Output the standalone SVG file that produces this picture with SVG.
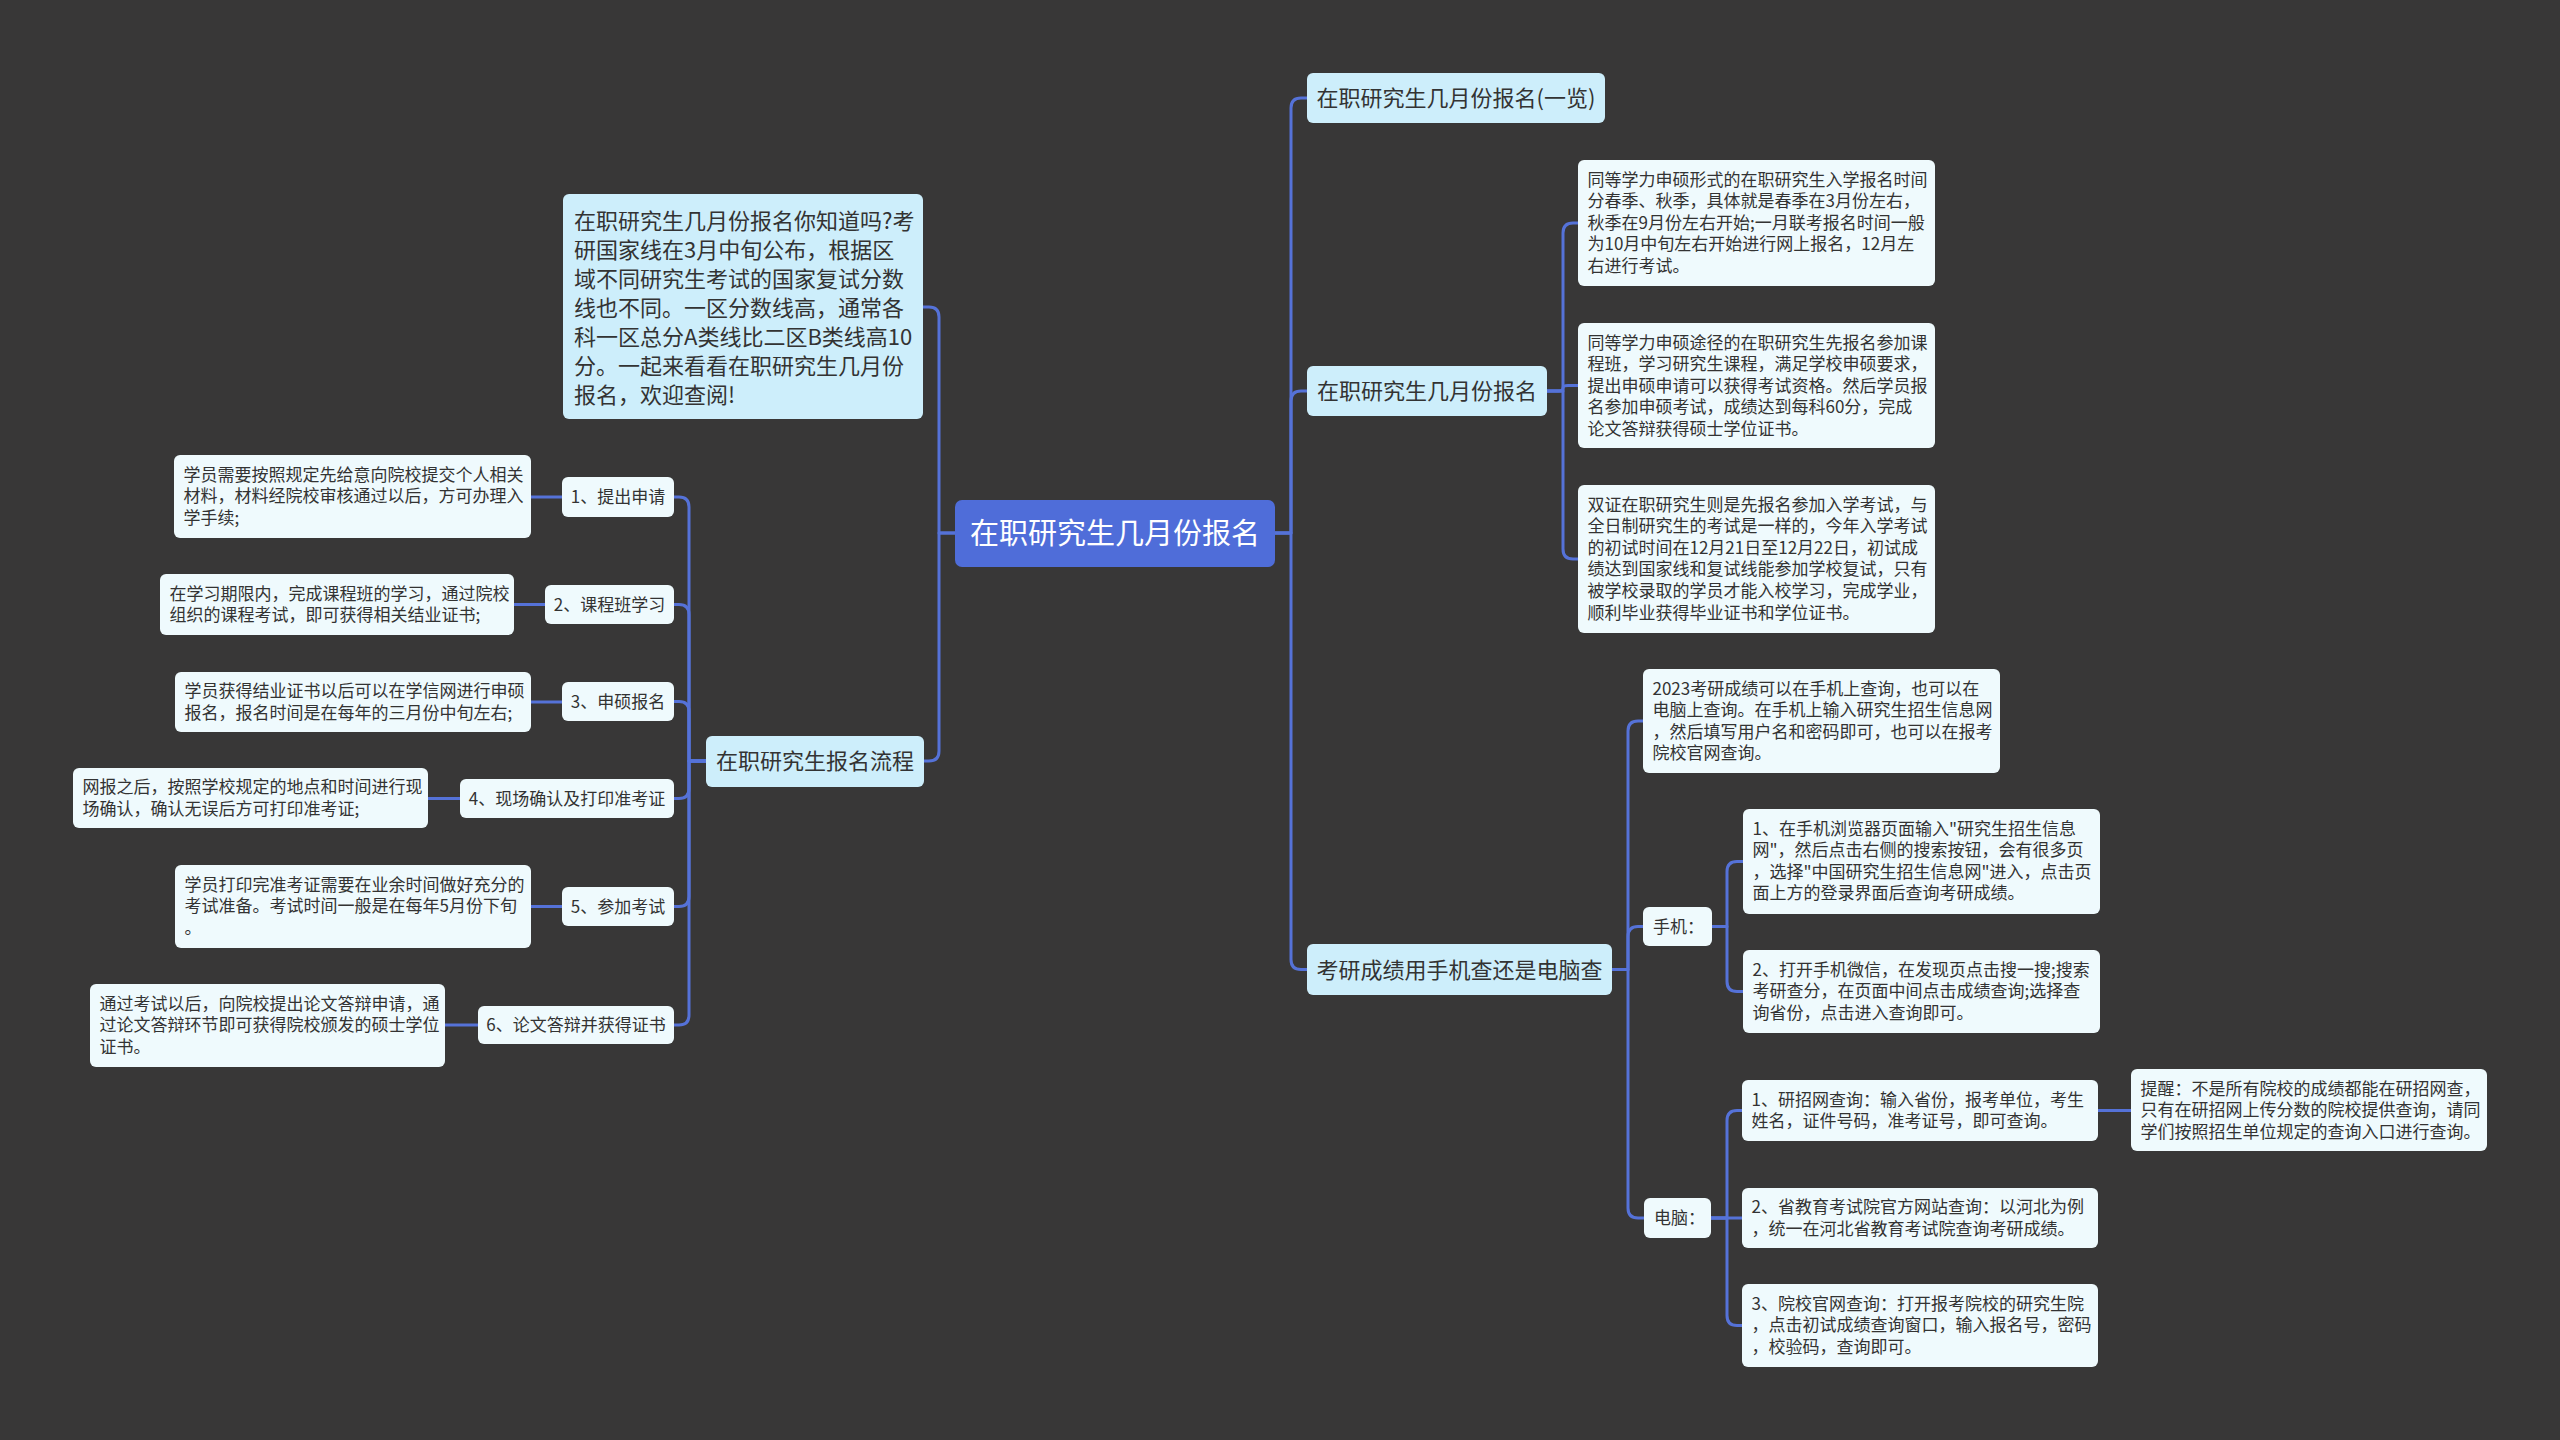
<svg xmlns="http://www.w3.org/2000/svg" width="2560" height="1440" viewBox="0 0 2560 1440">
<style>
.bg{fill:#383737}
.root{fill:#4f6dd9}
.l1{fill:#cdeefb}
.leaf{fill:#effafd}
text{font-family:"Noto Sans CJK SC","Microsoft YaHei",sans-serif;fill:#333333}
.rt{font-size:29px;fill:#ffffff}
.t22{font-size:22px}
.t17{font-size:17px}
.mid{text-anchor:middle}
.conn path{fill:none;stroke:#5572d8;stroke-width:3;stroke-linecap:round;stroke-linejoin:round}
</style>
<rect class="bg" x="0" y="0" width="2560" height="1440"/>

<g class="conn" id="connectors">
<path d="M1275 533 H1291 V108 Q1291 98 1301 98 H1307"/>
<path d="M1275 533 H1291 V401 Q1291 391 1301 391 H1307"/>
<path d="M1275 533 H1291 V959.5 Q1291 969.5 1301 969.5 H1307"/>
<path d="M955 533 H939 V317 Q939 307 929 307 H923"/>
<path d="M955 533 H939 V751 Q939 761 929 761 H924"/>
<path d="M706 761 H689 V507 Q689 497 679 497 H674"/>
<path d="M706 761 H689 V614.5 Q689 604.5 679 604.5 H674"/>
<path d="M706 761 H689 V711.5 Q689 701.5 679 701.5 H674"/>
<path d="M706 761 H689 V788.5 Q689 798.5 679 798.5 H674"/>
<path d="M706 761 H689 V896.5 Q689 906.5 679 906.5 H674"/>
<path d="M706 761 H689 V1015 Q689 1025 679 1025 H674"/>
<path d="M531 497 H562"/>
<path d="M514 604.5 H545"/>
<path d="M531 702 H562"/>
<path d="M428 798.5 H460"/>
<path d="M531 906.5 H562"/>
<path d="M445 1025 H478"/>
<path d="M1547 391 H1563 V233 Q1563 223 1573 223 H1578"/>
<path d="M1547 391 H1558 Q1563 391 1563 388 Q1563 385.5 1568 385.5 H1578"/>
<path d="M1547 391 H1563 V549 Q1563 559 1573 559 H1578"/>
<path d="M1612 969.5 H1628 V731 Q1628 721 1638 721 H1643"/>
<path d="M1612 969.5 H1628 V936.5 Q1628 926.5 1638 926.5 H1643"/>
<path d="M1612 969.5 H1628 V1208 Q1628 1218 1638 1218 H1644"/>
<path d="M1712 926.5 H1727 V871.5 Q1727 861.5 1737 861.5 H1743"/>
<path d="M1712 926.5 H1727 V981.5 Q1727 991.5 1737 991.5 H1743"/>
<path d="M1711 1218 H1727 V1120.5 Q1727 1110.5 1737 1110.5 H1742"/>
<path d="M1711 1218 H1742"/>
<path d="M1711 1218 H1727 V1315.5 Q1727 1325.5 1737 1325.5 H1742"/>
<path d="M2098 1110.5 H2131"/>
</g>

<g id="root">
<rect class="root" x="955" y="500" width="320" height="67" rx="7"/>
<text class="rt mid" x="1115" y="544">在职研究生几月份报名</text>
</g>

<g id="intro">
<rect class="l1" x="563" y="194" width="360" height="225" rx="6"/>
<text class="t22" x="574" y="229">
<tspan x="574" y="229">在职研究生几月份报名你知道吗?考</tspan>
<tspan x="574" y="258">研国家线在3月中旬公布，根据区</tspan>
<tspan x="574" y="287">域不同研究生考试的国家复试分数</tspan>
<tspan x="574" y="316">线也不同。一区分数线高，通常各</tspan>
<tspan x="574" y="345">科一区总分A类线比二区B类线高10</tspan>
<tspan x="574" y="374">分。一起来看看在职研究生几月份</tspan>
<tspan x="574" y="403">报名，欢迎查阅!</tspan>
</text>
</g>

<g id="flow">
<rect class="l1" x="706" y="736" width="218" height="51" rx="6"/>
<text class="t22 mid" x="815" y="769">在职研究生报名流程</text>
</g>

<g id="step1">
<rect class="leaf" x="562" y="477" width="112" height="40" rx="6"/>
<text class="t17 mid" x="618" y="503">1、提出申请</text>
</g>
<g id="desc1">
<rect class="leaf" x="174" y="455" width="357" height="83" rx="6"/>
<text class="t17"><tspan x="183.5" y="480.5">学员需要按照规定先给意向院校提交个人相关</tspan><tspan x="183.5" y="502.1">材料，材料经院校审核通过以后，方可办理入</tspan><tspan x="183.5" y="523.7">学手续;</tspan></text>
</g>
<g id="step2">
<rect class="leaf" x="545" y="585" width="129" height="39" rx="6"/>
<text class="t17 mid" x="609.5" y="610.5">2、课程班学习</text>
</g>
<g id="desc2">
<rect class="leaf" x="160" y="574" width="354" height="61" rx="6"/>
<text class="t17"><tspan x="169.5" y="599.5">在学习期限内，完成课程班的学习，通过院校</tspan><tspan x="169.5" y="621.1">组织的课程考试，即可获得相关结业证书;</tspan></text>
</g>
<g id="step3">
<rect class="leaf" x="562" y="682" width="112" height="39" rx="6"/>
<text class="t17 mid" x="618" y="707.5">3、申硕报名</text>
</g>
<g id="desc3">
<rect class="leaf" x="175" y="672" width="356" height="60" rx="6"/>
<text class="t17"><tspan x="184.5" y="697">学员获得结业证书以后可以在学信网进行申硕</tspan><tspan x="184.5" y="718.6">报名，报名时间是在每年的三月份中旬左右;</tspan></text>
</g>
<g id="step4">
<rect class="leaf" x="460" y="779" width="214" height="39" rx="6"/>
<text class="t17 mid" x="567" y="804.5">4、现场确认及打印准考证</text>
</g>
<g id="desc4">
<rect class="leaf" x="73" y="768" width="355" height="60" rx="6"/>
<text class="t17"><tspan x="82.5" y="793">网报之后，按照学校规定的地点和时间进行现</tspan><tspan x="82.5" y="814.6">场确认，确认无误后方可打印准考证;</tspan></text>
</g>
<g id="step5">
<rect class="leaf" x="562" y="887" width="112" height="39" rx="6"/>
<text class="t17 mid" x="618" y="912.5">5、参加考试</text>
</g>
<g id="desc5">
<rect class="leaf" x="175" y="865" width="356" height="83" rx="6"/>
<text class="t17"><tspan x="184.5" y="890.5">学员打印完准考证需要在业余时间做好充分的</tspan><tspan x="184.5" y="912.1">考试准备。考试时间一般是在每年5月份下旬</tspan><tspan x="184.5" y="933.7">。</tspan></text>
</g>
<g id="step6">
<rect class="leaf" x="478" y="1006" width="196" height="38" rx="6"/>
<text class="t17 mid" x="576" y="1031">6、论文答辩并获得证书</text>
</g>
<g id="desc6">
<rect class="leaf" x="90" y="984" width="355" height="83" rx="6"/>
<text class="t17"><tspan x="99.5" y="1009.5">通过考试以后，向院校提出论文答辩申请，通</tspan><tspan x="99.5" y="1031.1">过论文答辩环节即可获得院校颁发的硕士学位</tspan><tspan x="99.5" y="1052.7">证书。</tspan></text>
</g>

<g id="overview">
<rect class="l1" x="1307" y="73" width="298" height="50" rx="6"/>
<text class="t22 mid" x="1456" y="106">在职研究生几月份报名(一览)</text>
</g>

<g id="month">
<rect class="l1" x="1307" y="366" width="240" height="50" rx="6"/>
<text class="t22 mid" x="1427" y="399">在职研究生几月份报名</text>
</g>
<g id="m1">
<rect class="leaf" x="1578" y="160" width="357" height="126" rx="6"/>
<text class="t17"><tspan x="1587.5" y="185.5">同等学力申硕形式的在职研究生入学报名时间</tspan><tspan x="1587.5" y="207.1">分春季、秋季，具体就是春季在3月份左右，</tspan><tspan x="1587.5" y="228.7">秋季在9月份左右开始;一月联考报名时间一般</tspan><tspan x="1587.5" y="250.3">为10月中旬左右开始进行网上报名，12月左</tspan><tspan x="1587.5" y="271.9">右进行考试。</tspan></text>
</g>
<g id="m2">
<rect class="leaf" x="1578" y="323" width="357" height="125" rx="6"/>
<text class="t17"><tspan x="1587.5" y="348.5">同等学力申硕途径的在职研究生先报名参加课</tspan><tspan x="1587.5" y="370.1">程班，学习研究生课程，满足学校申硕要求，</tspan><tspan x="1587.5" y="391.7">提出申硕申请可以获得考试资格。然后学员报</tspan><tspan x="1587.5" y="413.3">名参加申硕考试，成绩达到每科60分，完成</tspan><tspan x="1587.5" y="434.9">论文答辩获得硕士学位证书。</tspan></text>
</g>
<g id="m3">
<rect class="leaf" x="1578" y="485" width="357" height="148" rx="6"/>
<text class="t17"><tspan x="1587.5" y="510.5">双证在职研究生则是先报名参加入学考试，与</tspan><tspan x="1587.5" y="532.1">全日制研究生的考试是一样的，今年入学考试</tspan><tspan x="1587.5" y="553.7">的初试时间在12月21日至12月22日，初试成</tspan><tspan x="1587.5" y="575.3">绩达到国家线和复试线能参加学校复试，只有</tspan><tspan x="1587.5" y="596.9">被学校录取的学员才能入校学习，完成学业，</tspan><tspan x="1587.5" y="618.5">顺利毕业获得毕业证书和学位证书。</tspan></text>
</g>

<g id="score">
<rect class="l1" x="1307" y="944" width="305" height="51" rx="6"/>
<text class="t22 mid" x="1459.5" y="977.5">考研成绩用手机查还是电脑查</text>
</g>
<g id="s2023">
<rect class="leaf" x="1643" y="669" width="357" height="104" rx="6"/>
<text class="t17"><tspan x="1652.5" y="694.5">2023考研成绩可以在手机上查询，也可以在</tspan><tspan x="1652.5" y="716.1">电脑上查询。在手机上输入研究生招生信息网</tspan><tspan x="1652.5" y="737.7">，然后填写用户名和密码即可，也可以在报考</tspan><tspan x="1652.5" y="759.3">院校官网查询。</tspan></text>
</g>
<g id="phone">
<rect class="leaf" x="1643" y="907" width="69" height="39" rx="6"/>
<text class="t17" x="1653" y="932.5">手机：</text>
</g>
<g id="p1">
<rect class="leaf" x="1743" y="809" width="357" height="105" rx="6"/>
<text class="t17"><tspan x="1752.5" y="834.5">1、在手机浏览器页面输入"研究生招生信息</tspan><tspan x="1752.5" y="856.1">网"，然后点击右侧的搜索按钮，会有很多页</tspan><tspan x="1752.5" y="877.7">，选择"中国研究生招生信息网"进入，点击页</tspan><tspan x="1752.5" y="899.3">面上方的登录界面后查询考研成绩。</tspan></text>
</g>
<g id="p2">
<rect class="leaf" x="1743" y="950" width="357" height="83" rx="6"/>
<text class="t17"><tspan x="1752.5" y="975.5">2、打开手机微信，在发现页点击搜一搜;搜索</tspan><tspan x="1752.5" y="997.1">考研查分，在页面中间点击成绩查询;选择查</tspan><tspan x="1752.5" y="1018.7">询省份，点击进入查询即可。</tspan></text>
</g>
<g id="pc">
<rect class="leaf" x="1644" y="1198" width="67" height="40" rx="6"/>
<text class="t17" x="1654" y="1224">电脑：</text>
</g>
<g id="c1">
<rect class="leaf" x="1742" y="1080" width="356" height="61" rx="6"/>
<text class="t17"><tspan x="1751.5" y="1105.5">1、研招网查询：输入省份，报考单位，考生</tspan><tspan x="1751.5" y="1127.1">姓名，证件号码，准考证号，即可查询。</tspan></text>
</g>
<g id="tip">
<rect class="leaf" x="2131" y="1069" width="356" height="82" rx="6"/>
<text class="t17"><tspan x="2140.5" y="1094.5">提醒：不是所有院校的成绩都能在研招网查，</tspan><tspan x="2140.5" y="1116.1">只有在研招网上传分数的院校提供查询，请同</tspan><tspan x="2140.5" y="1137.7">学们按照招生单位规定的查询入口进行查询。</tspan></text>
</g>
<g id="c2">
<rect class="leaf" x="1742" y="1188" width="356" height="60" rx="6"/>
<text class="t17"><tspan x="1751.5" y="1213">2、省教育考试院官方网站查询：以河北为例</tspan><tspan x="1751.5" y="1234.6">，统一在河北省教育考试院查询考研成绩。</tspan></text>
</g>
<g id="c3">
<rect class="leaf" x="1742" y="1284" width="356" height="83" rx="6"/>
<text class="t17"><tspan x="1751.5" y="1309.5">3、院校官网查询：打开报考院校的研究生院</tspan><tspan x="1751.5" y="1331.1">，点击初试成绩查询窗口，输入报名号，密码</tspan><tspan x="1751.5" y="1352.7">，校验码，查询即可。</tspan></text>
</g>
</svg>
